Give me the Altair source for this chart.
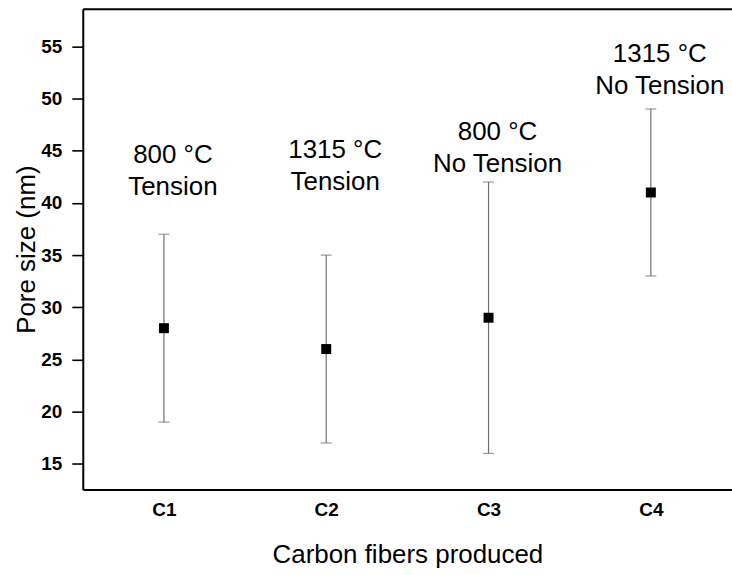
import altair as alt
import pandas as pd

# ---- data ----
samples = ["C1", "C2", "C3", "C4"]
pore_mean = [28, 26, 29, 41]
pore_low = [19, 17, 16, 33]
pore_high = [37, 35, 42, 49]
label_line1 = ["800 °C", "1315 °C", "800 °C", "1315 °C"]
label_line2 = ["Tension", "Tension", "No Tension", "No Tension"]
label_at = [44.6, 45.05, 46.8, 54.3]
y_ticks = [15, 17.5, 20, 22.5, 25, 27.5, 30, 32.5, 35, 37.5, 40, 42.5,
           45, 47.5, 50, 52.5, 55, 57.5]
y_domain = [12.55, 58.6]

df = pd.DataFrame({
    "sample": samples,
    "mean": pore_mean,
    "low": pore_low,
    "high": pore_high,
    "label": [a + "\n" + b for a, b in zip(label_line1, label_line2)],
    "label_at": label_at,
})

FONT = "Liberation Sans"
x_scale = alt.Scale(type="point", padding=0.5)

x_bottom = alt.X(
    "sample:N",
    sort=samples,
    scale=x_scale,
    axis=alt.Axis(
        title="Carbon fibers produced",
        labelAngle=0,
        labelFont=FONT,
        labelFontSize=19,
        labelFontWeight="bold",
        labelColor="black",
        labelPadding=11,
        ticks=False,
        domainColor="black",
        domainWidth=2,
        titleFont=FONT,
        titleFontSize=26,
        titleFontWeight="normal",
        titleColor="black",
        titlePadding=22,
    ),
)
x_top = alt.X(
    "sample:N",
    sort=samples,
    scale=x_scale,
    axis=alt.Axis(
        orient="top",
        title="",
        labels=False,
        ticks=False,
        domainColor="black",
        domainWidth=2,
    ),
)
x_plain = alt.X("sample:N", sort=samples, scale=x_scale, axis=None)

y_scale = alt.Scale(domain=y_domain, nice=False, zero=False)
y_axis = alt.Axis(
    title="Pore size (nm)",
    values=y_ticks,
    labelExpr="datum.value % 5 == 0 ? datum.label : ''",
    labelFont=FONT,
    labelFontSize=19,
    labelFontWeight="bold",
    labelColor="black",
    labelPadding=10,
    tickSize={"condition": {"test": "datum.value % 5 == 0", "value": 11}, "value": 4},
    tickColor="black",
    tickWidth=1.6,
    domainColor="black",
    domainWidth=2,
    grid=False,
    titleFont=FONT,
    titleFontSize=26,
    titleFontWeight="normal",
    titleColor="black",
    titlePadding=1,
)

base = alt.Chart(df)
ERR = "#707070"

bars = base.mark_rule(color=ERR, strokeWidth=1.2).encode(
    x=x_bottom,
    y=alt.Y("low:Q", scale=y_scale, axis=y_axis),
    y2="high:Q",
)
cap_low = base.mark_tick(color=ERR, thickness=1.2, size=11, orient="horizontal").encode(
    x=x_plain, y=alt.Y("low:Q", scale=y_scale)
)
cap_high = base.mark_tick(color=ERR, thickness=1.2, size=11, orient="horizontal").encode(
    x=x_plain, y=alt.Y("high:Q", scale=y_scale)
)
points = base.mark_square(color="black", size=100, opacity=1).encode(
    x=x_top, y=alt.Y("mean:Q", scale=y_scale)
)
labels = base.mark_text(
    font=FONT, fontSize=26, color="black", lineBreak="\n", lineHeight=32,
    align="center", baseline="middle", dx=9,
).encode(
    x=x_plain, y=alt.Y("label_at:Q", scale=y_scale), text="label:N"
)

chart = alt.layer(bars, cap_low, cap_high, points, labels).resolve_axis(
    x="independent"
).properties(
    width=651,
    height=482,
    autosize=alt.AutoSizeParams(type="none"),
    padding={"left": 83, "top": 8, "right": 0, "bottom": 85},
    background="white",
).configure_view(stroke="transparent")

chart.save("out.html", embed_options={"renderer": "svg", "actions": False})
